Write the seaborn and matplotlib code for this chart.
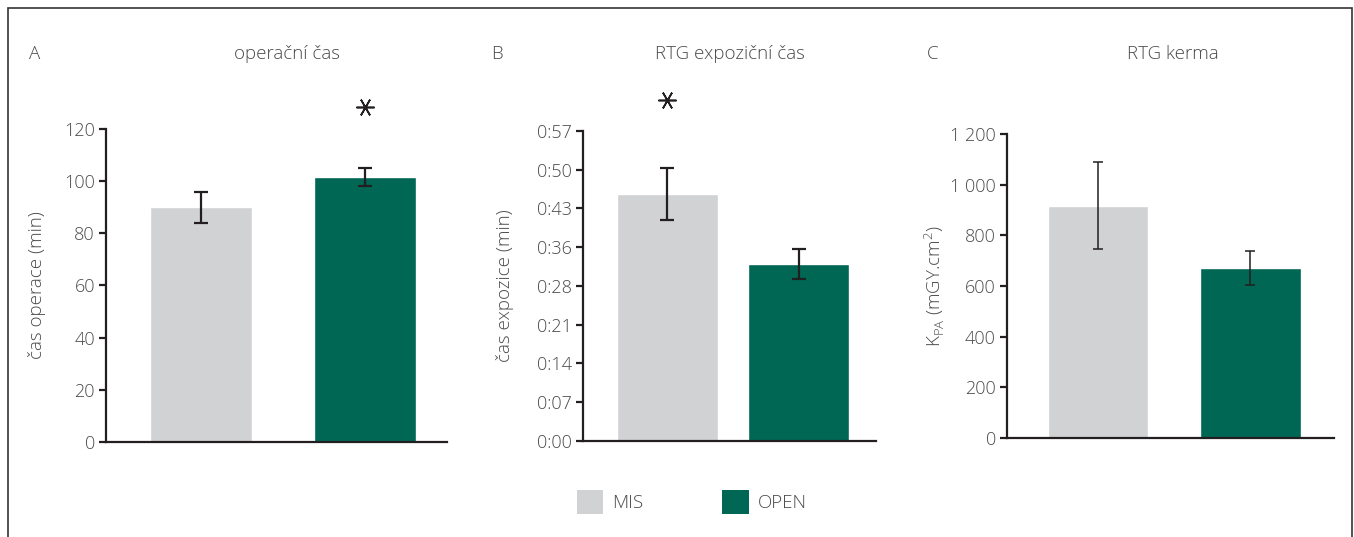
import numpy as np
import pandas as pd
import matplotlib
matplotlib.use('Agg')
import matplotlib.pyplot as plt
from matplotlib.patches import Patch, Rectangle
from matplotlib.ticker import FuncFormatter
import seaborn as sns

# data
groups = ['MIS', 'OPEN']
colors = {'MIS': '#d1d2d4', 'OPEN': '#006754'}

op_time = [90.0, 101.5]          # min
op_time_err = [6.0, 3.5]

exp_time = [45.9, 32.9]          # min
exp_time_err = [4.9, 2.8]
exp_ticks = [0, 7.2, 14.4, 21.6, 28.8, 36.0, 43.2, 50.4, 57.6]
exp_tick_labels = ['0:00', '0:07', '0:14', '0:21', '0:28', '0:36', '0:43', '0:50', '0:57']

kerma = [916, 671]               # mGy.cm2
kerma_err = [172, 67]

TEXT = '#4a4a4a'
LINE = '#231f20'

sns.set_theme(style='white')
plt.rcParams['font.family'] = ['Open Sans', 'DejaVu Sans']
plt.rcParams['font.weight'] = 'light'
plt.rcParams['font.size'] = 13

fig = plt.figure(figsize=(13.54, 5.37), dpi=100)

# positions in figure fractions: left, bottom, width, height
panels = [
    dict(pos=[0.0783, 0.1769, 0.2519, 0.5829], vals=op_time, err=op_time_err, width=0.62,
         xlim=(-0.58, 1.5), ylim=(0, 120), title='operační čas', letter='A',
         ylabel='čas operace (min)', star=1, star_y=1.07, cap=5, elw=1.6),
    dict(pos=[0.4306, 0.1788, 0.2164, 0.5773], vals=exp_time, err=exp_time_err, width=0.77,
         xlim=(-0.64, 1.59), ylim=(0, 57.6), title='RTG expoziční čas', letter='B',
         ylabel='čas expozice (min)', star=0, star_y=1.10, cap=5, elw=1.6),
    dict(pos=[0.7437, 0.1844, 0.2415, 0.5661], vals=kerma, err=kerma_err, width=0.66,
         xlim=(-0.60, 1.55), ylim=(0, 1200), title='RTG kerma', letter='C',
         ylabel='K$_{\\mathregular{PA}}$ (mGY.cm$^{\\mathregular{2}}$)', star=None, star_y=None,
         cap=3.5, elw=1.1),
]

title_x = [287, 730, 1173]
letter_x = [35, 497, 933]
ylabel_x = [37, 505, 935]

for i, p in enumerate(panels):
    ax = fig.add_axes(p['pos'])
    df = pd.DataFrame({'group': groups, 'value': p['vals']})
    sns.barplot(data=df, x='group', y='value', hue='group', palette=colors,
                width=p['width'], errorbar=None, legend=False, ax=ax, saturation=1)
    ax.errorbar(x=[0, 1], y=p['vals'], yerr=p['err'], fmt='none', ecolor=LINE,
                elinewidth=p['elw'], capsize=p['cap'], capthick=p['elw'])
    ax.set_xlim(*p['xlim'])
    ax.set_ylim(*p['ylim'])
    ax.set_xlabel('')
    ax.set_ylabel('')
    ax.set_xticks([])
    sns.despine(ax=ax, top=True, right=True)
    for s in ['left', 'bottom']:
        ax.spines[s].set_color(LINE)
        ax.spines[s].set_linewidth(1.6)
    ax.tick_params(axis='y', direction='out', length=5, width=1.6, color=LINE,
                   labelcolor=TEXT, labelsize=13, left=True, pad=3)
    if p['letter'] == 'A':
        ax.set_yticks(range(0, 121, 20))
    elif p['letter'] == 'B':
        ax.set_yticks(exp_ticks)
        ax.set_yticklabels(exp_tick_labels)
    else:
        ax.set_yticks(range(0, 1201, 200))
        ax.yaxis.set_major_formatter(FuncFormatter(lambda v, _: f'{int(v):,}'.replace(',', ' ')))
    if p['star'] is not None:
        # six-armed significance asterisk (horizontal arm) above the bar
        ax.plot([p['star']], [p['star_y']], transform=ax.get_xaxis_transform(),
                marker=(6, 2, 90), markersize=13, markeredgewidth=1.2,
                color=LINE, clip_on=False, linestyle='none')

    fig.text(title_x[i] / 1354, 1 - 54 / 537, p['title'], ha='center', va='center',
             fontsize=13.5, color=TEXT)
    fig.text(letter_x[i] / 1354, 1 - 54 / 537, p['letter'], ha='center', va='center',
             fontsize=13.5, color=TEXT)
    ymid = p['pos'][1] + p['pos'][3] / 2
    fig.text(ylabel_x[i] / 1354, ymid, p['ylabel'], ha='center', va='center',
             rotation=90, fontsize=13.5, color=TEXT)

handles = [Patch(facecolor=colors[g], edgecolor='none', label=g) for g in groups]
fig.legend(handles=handles, loc='center', bbox_to_anchor=(0.511, 0.066), ncol=2,
           frameon=False, handlelength=1.4, handleheight=1.6, columnspacing=4.2,
           handletextpad=0.5, labelcolor=TEXT, fontsize=13.5)

fig.patches.append(Rectangle((8 / 1354, -0.1), 1344 / 1354, 1.1 - 8 / 537,
                             transform=fig.transFigure, fill=False,
                             edgecolor='#333333', linewidth=1.2))

fig.savefig('out.png', dpi=100)
